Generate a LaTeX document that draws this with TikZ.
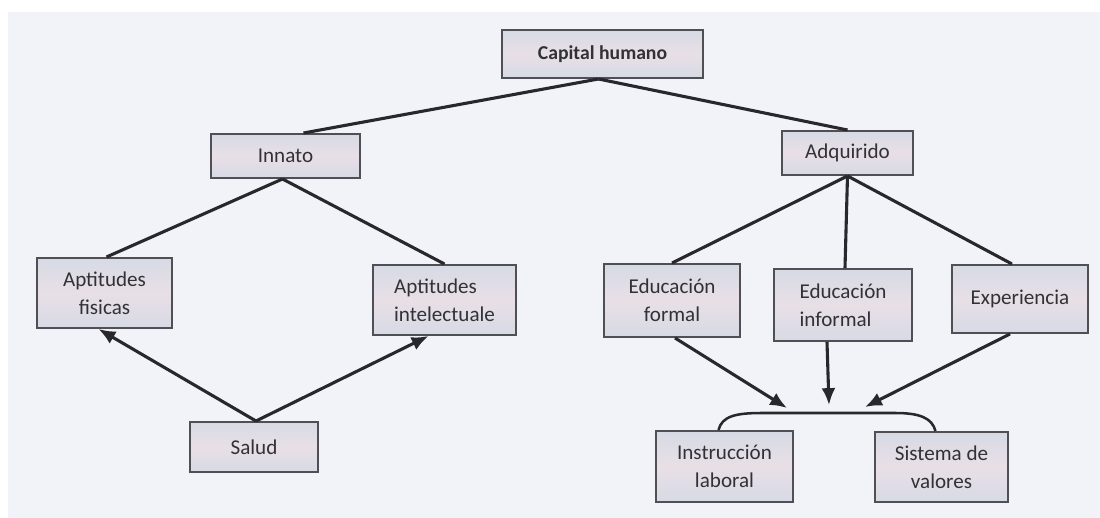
\documentclass[tikz,border=0pt]{standalone}
\usepackage{fontspec}
\setmainfont{Carlito}
\usetikzlibrary{arrows.meta,calc}
\definecolor{bgc}{RGB}{241,243,248}
\definecolor{boxtop}{RGB}{214,218,229}
\definecolor{boxmid}{RGB}{233,223,230}
\definecolor{boxedge}{RGB}{80,80,84}
\definecolor{txt}{RGB}{50,50,54}
\definecolor{ln}{RGB}{40,40,44}
\tikzset{
  box/.style={draw=boxedge, line width=1.4pt, top color=boxtop, bottom color=boxtop, middle color=boxmid,
    text=txt, align=center, inner sep=0pt, font=\fontsize{15}{20}\selectfont},
  conn/.style={draw=ln, line width=2.2pt},
  arr/.style={draw=ln, line width=2.2pt, -{Latex[length=12pt,width=10pt]}}
}
\begin{document}
\begin{tikzpicture}[x=0.025cm,y=-0.025cm]
\useasboundingbox (0,0) rectangle (1100,518);
\fill[white] (0,0) rectangle (1100,518);
\fill[bgc] (8,12) rectangle (1100,518);

\node[box, minimum width=201*0.025cm, minimum height=48*0.025cm, font=\fontsize{14}{18}\selectfont\bfseries] (cap) at (602.5,54) {Capital humano};
\node[box, minimum width=149*0.025cm, minimum height=44*0.025cm] (inn) at (285.5,156) {Innato};
\node[box, minimum width=131*0.025cm, minimum height=44*0.025cm] (adq) at (847.5,153) {Adquirido};
\node[box, minimum width=135*0.025cm, minimum height=70*0.025cm] (af) at (104.5,293) {Aptitudes\\fisicas};
\node[box, minimum width=143*0.025cm, minimum height=70*0.025cm, align=left] (ai) at (444.5,300) {Aptitudes\\intelectuale};
\node[box, minimum width=128*0.025cm, minimum height=50*0.025cm] (sal) at (254,447) {Salud};
\node[box, minimum width=136*0.025cm, minimum height=73*0.025cm] (ef) at (672,300.5) {Educación\\formal};
\node[box, minimum width=138*0.025cm, minimum height=72*0.025cm, align=left] (ei) at (843,305) {Educación\\informal};
\node[box, minimum width=136*0.025cm, minimum height=68*0.025cm] (exp) at (1020,299) {Experiencia};
\node[box, minimum width=137*0.025cm, minimum height=71*0.025cm] (il) at (724.5,466.5) {Instrucción\\laboral};
\node[box, minimum width=133*0.025cm, minimum height=70*0.025cm] (sv) at (941.5,467) {Sistema de\\valores};

% tree lines
\draw[conn] ($(cap.south)+(-4,0)$) -- ($(inn.north)+(18,0)$);
\draw[conn] ($(cap.south)+(-4,0)$) -- (adq.north);
\draw[conn] ($(inn.south)+(-3,0)$) -- ($(af.north)+(2,0)$);
\draw[conn] ($(inn.south)+(-3,0)$) -- (ai.north);
\draw[conn] (adq.south) -- (ef.north);
\draw[conn] (adq.south) -- ($(ei.north)+(2,0)$);
\draw[conn] (adq.south) -- ($(exp.north)+(-8,0)$);

% Salud arrows
\draw[arr] ($(sal.north)+(2,0)$) -- ($(af.south)+(-6,0)$);
\draw[arr] ($(sal.north)+(2,0)$) -- ($(ai.south)+(-16,0)$);

% brace over bottom boxes
\coordinate (bl) at ($(il.north)+(-6,0)$);
\coordinate (br) at ($(sv.north)+(-6,0)$);
\draw[conn, line width=1.8pt] (bl) .. controls (722,416) and (736,413) .. (762,413) -- (895,413) .. controls (920,413) and (932,418) .. (br);
\coordinate (t1) at (787,408);
\coordinate (t2) at (829,405);
\coordinate (t3) at (865,407);
\draw[arr] ($(ef.south)+(3,0)$) -- (t1);
\draw[arr] ($(ei.south)+(-16,0)$) -- (t2);
\draw[arr] ($(exp.south)+(-10,0)$) -- (t3);
\end{tikzpicture}
\end{document}
